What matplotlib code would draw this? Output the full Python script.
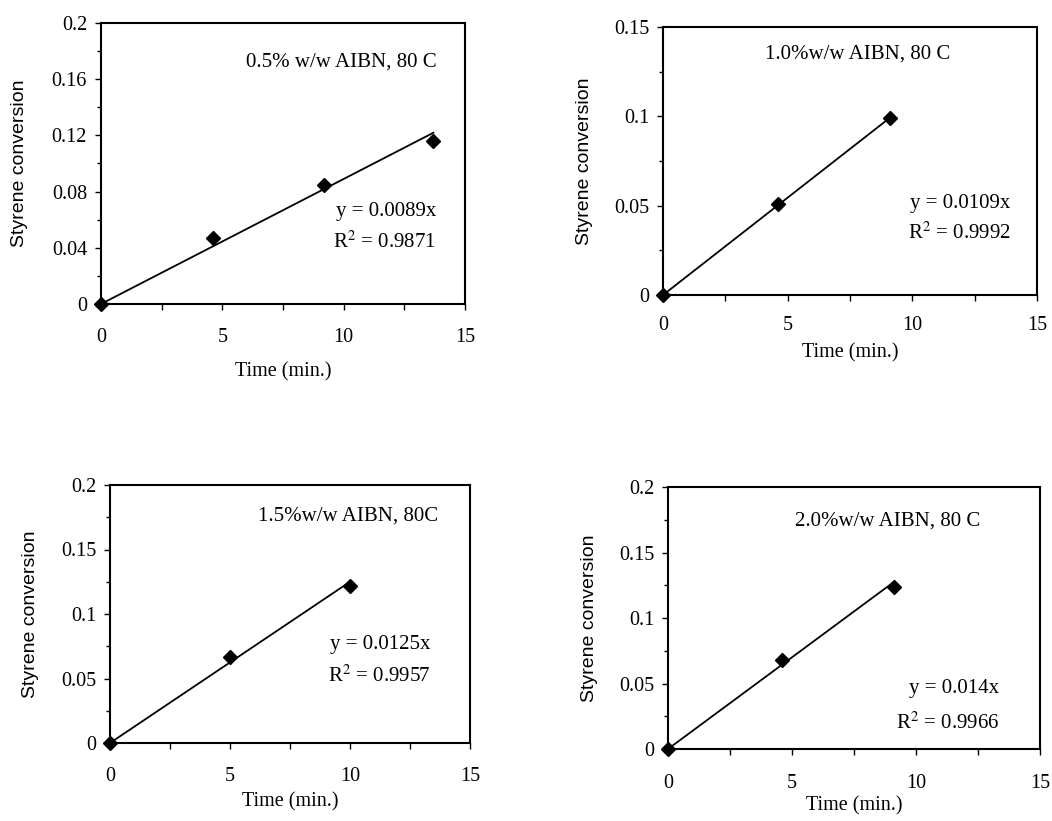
import matplotlib
matplotlib.use("Agg")
import matplotlib.pyplot as plt
from matplotlib.ticker import MultipleLocator, FuncFormatter

# data
labels = ["0.5% w/w AIBN, 80 C", "1.0%w/w AIBN, 80 C", "1.5%w/w AIBN, 80C", "2.0%w/w AIBN, 80 C"]
times = [
    [0, 4.6, 9.2, 13.7],
    [0, 4.6, 9.1],
    [0, 5.0, 10.0],
    [0, 4.6, 9.1],
]
conversions = [
    [0, 0.047, 0.085, 0.116],
    [0, 0.051, 0.099],
    [0, 0.067, 0.122],
    [0, 0.068, 0.124],
]
slopes = [0.0089, 0.0109, 0.0125, 0.014]
slope_text = ["0.0089", "0.0109", "0.0125", "0.014"]
r2_text = ["0.9871", "0.9992", "0.9957", "0.9966"]
ymax = [0.2, 0.15, 0.2, 0.2]
ymajor = [0.04, 0.05, 0.05, 0.05]

# axes boxes in pixels: left, right, top, bottom
W, H = 1052, 821
boxes = [(101, 465, 23, 304), (663, 1037, 27, 295), (110, 470, 485, 743), (668, 1040, 487, 749)]
label_pos = [(0.66, 0.86), (0.52, 0.90), (0.66, 0.88), (0.59, 0.87)]
eq_pos = [(0.92, 0.33, 0.22), (0.93, 0.34, 0.23), (0.89, 0.38, 0.26), (0.89, 0.23, 0.10)]
xpads = [13, 11, 13, 14]
xlab_y = [-0.242, -0.216, -0.229, -0.218]
ylab_x = [-0.223, -0.209, -0.222, -0.21]

serif = "Liberation Serif"
sans = "Liberation Sans"

fig = plt.figure(figsize=(W / 100, H / 100), dpi=100)

for i in range(4):
    l, r, t, b = boxes[i]
    ax = fig.add_axes([l / W, 1 - b / H, (r - l) / W, (b - t) / H])

    x = times[i]
    y = conversions[i]
    ax.plot([0, x[-1]], [0, slopes[i] * x[-1]], color="black", lw=1.3, zorder=2)
    ax.plot(x, y, "D", color="black", ms=7.5, zorder=3, clip_on=False)

    ax.set_xlim(0, 15)
    ax.set_ylim(0, ymax[i])
    ax.xaxis.set_major_locator(MultipleLocator(5))
    ax.xaxis.set_minor_locator(MultipleLocator(2.5))
    ax.yaxis.set_major_locator(MultipleLocator(ymajor[i]))
    ax.yaxis.set_minor_locator(MultipleLocator(ymajor[i] / 2))
    ax.yaxis.set_major_formatter(FuncFormatter(lambda v, p: f"{v:.4g}"))
    ax.xaxis.set_major_formatter(FuncFormatter(lambda v, p: f"{v:g}"))
    ax.tick_params(which="both", direction="out", length=4, width=1, labelsize=14.5)
    ax.tick_params(axis="x", pad=xpads[i])
    ax.tick_params(axis="y", pad=6)
    ax.tick_params(axis="y", which="minor", length=3)
    for lab in ax.get_xticklabels() + ax.get_yticklabels():
        lab.set_fontfamily(serif)
    for s in ax.spines.values():
        s.set_linewidth(1.5)

    ax.set_xlabel("Time (min.)", fontfamily=serif, fontsize=14.5)
    ax.xaxis.set_label_coords(0.5, xlab_y[i])
    ax.xaxis.label.set_va("center")
    ax.set_ylabel("Styrene conversion", fontfamily=sans, fontsize=14)
    ax.yaxis.set_label_coords(ylab_x[i], 0.5)
    ax.yaxis.label.set_va("center")

    lx, ly = label_pos[i]
    ax.text(lx, ly, labels[i], transform=ax.transAxes, ha="center", va="center",
            fontfamily=serif, fontsize=15)
    ex, ey1, ey2 = eq_pos[i]
    ax.text(ex, ey1, f"y = {slope_text[i]}x", transform=ax.transAxes, ha="right", va="center",
            fontfamily=serif, fontsize=15)
    ax.text(ex, ey2, f"R$^2$ = {r2_text[i]}", transform=ax.transAxes, ha="right", va="center",
            fontfamily=serif, fontsize=15, math_fontfamily="stix")

fig.savefig("out.png", dpi=100)
